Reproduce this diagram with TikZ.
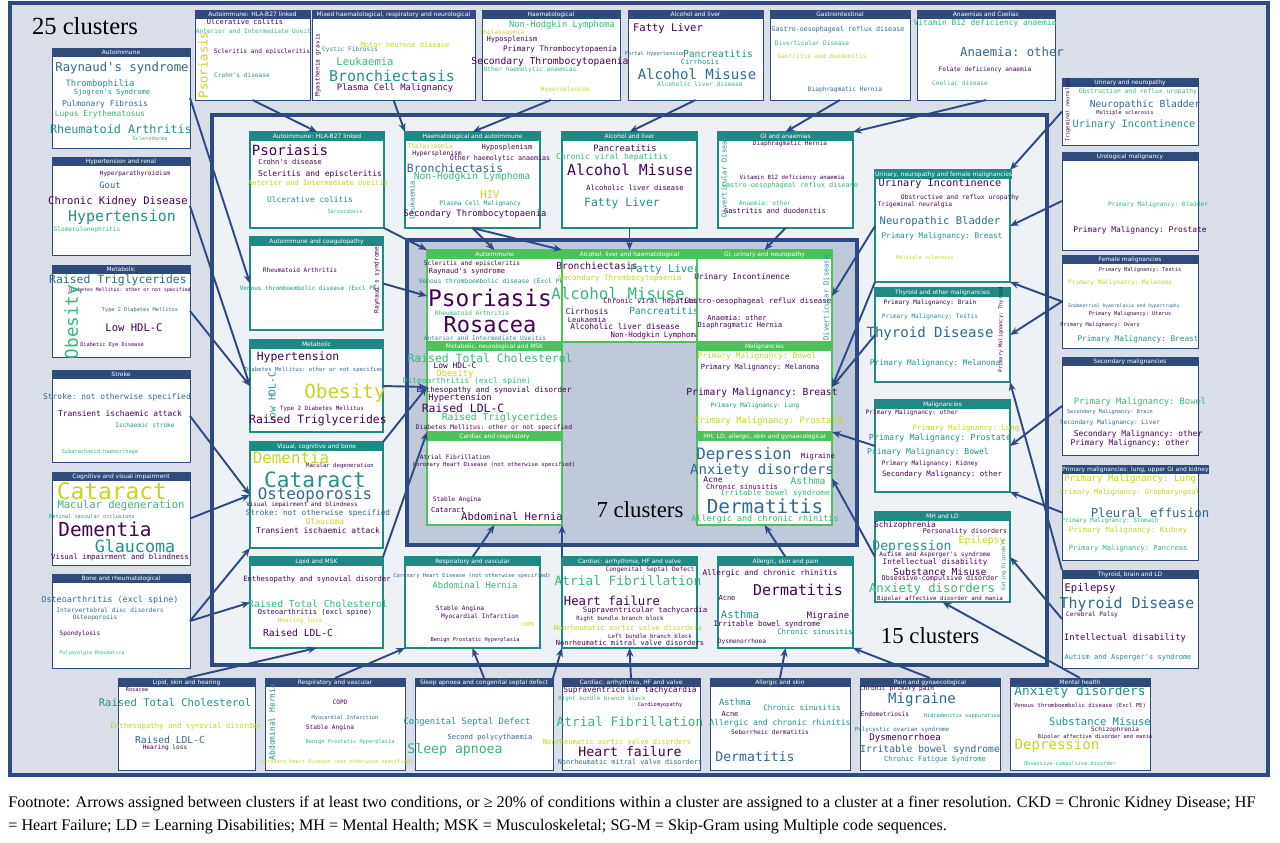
\documentclass[tikz,border=0pt]{standalone}
\usepackage{fontspec}
\setmainfont{Liberation Serif}
\setmonofont{DejaVu Sans Mono}
\setsansfont{DejaVu Sans}
\usetikzlibrary{arrows.meta,positioning,fit}

\definecolor{navy}{HTML}{2E4A85}
\definecolor{hd25}{HTML}{2F4B7C}
\definecolor{hd15}{HTML}{1F8A84}
\definecolor{hd7}{HTML}{4CC35A}
\definecolor{vp}{HTML}{440154}
\definecolor{vb}{HTML}{31688E}
\definecolor{vt}{HTML}{21908C}
\definecolor{vg}{HTML}{35B779}
\definecolor{vy}{HTML}{C9D21E}

\tikzset{
  box25/.style={draw=hd25,fill=white,line width=0.5pt,inner sep=0pt,outer sep=0pt},
  box15/.style={draw=hd15,fill=white,line width=0.6pt,inner sep=0pt,outer sep=0pt},
  box7/.style={draw=hd7,fill=white,line width=0.8pt,inner sep=0pt,outer sep=0pt},
  head/.style={text=white,inner sep=0pt,outer sep=0pt,minimum height=0.18cm,
    font=\sffamily\fontsize{3.4}{3.4}\selectfont},
  word/.style={inner sep=0pt},
  link/.style={-{Stealth[length=5pt,width=4pt]},navy,line width=1.1pt},
  frame/.style={draw=navy,line width=2.2pt},
}
% box: name, x1, y1, x2, y2, level, title
\newcommand\clbox[7]{%
  \node[box#6,fit={(#2,#3) (#4,#5)}] (#1) {};
  \node[head,fill=hd#6,minimum width={(#4-#2)*0.02cm},anchor=north west] (#1h) at (#1.north west) {#7};}
% word of a cloud: x, y, size, colour, text
\newcommand\cword[5]{\node[word,text=#4,font=\ttfamily\fontsize{#3}{#3}\selectfont] at (#1,#2) {#5};}
\newcommand\cvword[5]{\node[word,rotate=90,text=#4,font=\ttfamily\fontsize{#3}{#3}\selectfont] at (#1,#2) {#5};}

\begin{document}
\begin{tikzpicture}[x=0.02cm,y=-0.02cm]
    \useasboundingbox (0,0) rectangle (1280,842);

    %%%% Frames =====================================
    \draw[frame,fill=navy!18] (10,3) rectangle (1268,775);
    \draw[frame,fill=navy!8] (212,115) rectangle (1047,665);
    \draw[frame,fill=navy!30] (407,240) rectangle (857,545);
    \node[font=\fontsize{14}{14}\selectfont] (t25) at (85,26) {25 clusters};
    \node[font=\fontsize{13}{13}\selectfont] (t15) at (930,636) {15 clusters};
    \node[font=\fontsize{13}{13}\selectfont] (t7) at (640,510) {7 clusters};

    %%%% 25 clusters =================================
    \clbox{a25hla}{195}{10}{310}{100}{25}{Autoimmune: HLA-B27 linked}
    \cvword{203}{65}{7}{vy}{Psoriasis}
    \cword{245}{22}{4}{vp}{Ulcerative colitis}
    \cword{257}{31}{3.5}{vg}{Anterior and Intermediate Uveitis}
    \cword{262}{52}{3.5}{vp}{Scleritis and episcleritis}
    \cword{242}{75}{3.5}{vt}{Crohn's disease}

    \clbox{a25mix}{312}{10}{475}{100}{25}{Mixed haematological, respiratory and neurological}
    \cvword{318}{65}{3.5}{vp}{Myasthenia gravis}
    \cword{350}{50}{3.5}{vt}{Cystic Fibrosis}
    \cword{405}{45}{4}{vy}{Motor neurone disease}
    \cword{365}{62}{6}{vg}{Leukaemia}
    \cword{392}{76}{8.5}{vt}{Bronchiectasis}
    \cword{395}{88}{5}{vp}{Plasma Cell Malignancy}

    \clbox{a25haem}{482}{10}{620}{100}{25}{Haematological}
    \cword{562}{25}{5}{vg}{Non-Hodgkin Lymphoma}
    \cword{502}{32}{3.5}{vy}{Thalassaemia}
    \cword{512}{40}{4}{vp}{Hyposplenism}
    \cword{560}{49}{4.3}{vp}{Primary Thrombocytopaenia}
    \cword{550}{62}{5.5}{vp}{Secondary Thrombocytopaenia}
    \cword{530}{70}{3.5}{vg}{Other haemolytic anaemias}
    \cword{565}{90}{3.5}{vy}{Hypersplenism}

    \clbox{a25alc}{628}{10}{763}{100}{25}{Alcohol and liver}
    \cword{668}{29}{6}{vp}{Fatty Liver}
    \cword{655}{54}{3}{vb}{Portal hypertension}
    \cword{718}{54}{5.5}{vt}{Pancreatitis}
    \cword{700}{62}{4}{vt}{Cirrhosis}
    \cword{697}{74}{8}{vb}{Alcohol Misuse}
    \cword{700}{84}{3.5}{vg}{Alcoholic liver disease}

    \clbox{a25gi}{770}{10}{910}{100}{25}{Gastrointestinal}
    \cword{838}{30}{3.8}{vb}{Gastro-oesophageal reflux disease}
    \cword{812}{43}{3.5}{vg}{Diverticular Disease}
    \cword{822}{56}{3.5}{vy}{Gastritis and duodenitis}
    \cword{845}{90}{3.5}{vb}{Diaphragmatic Hernia}

    \clbox{a25anae}{917}{10}{1055}{100}{25}{Anaemias and Coeliac}
    \cword{985}{23}{4.5}{vg}{Vitamin B12 deficiency anaemia}
    \cword{1012}{52}{7}{vb}{Anaemia: other}
    \cword{985}{70}{3.5}{vp}{Folate deficiency anaemia}
    \cword{960}{83}{3.5}{vg}{Coeliac disease}

    \clbox{a25auto}{52}{48}{190}{148}{25}{Autoimmune}
    \cword{122}{68}{7}{vb}{Raynaud's syndrome}
    \cword{100}{84}{5}{vt}{Thrombophilia}
    \cword{112}{93}{4}{vt}{Sjogren's Syndrome}
    \cword{105}{104}{4.5}{vb}{Pulmonary Fibrosis}
    \cword{100}{114}{4.5}{vg}{Lupus Erythematosus}
    \cword{121}{129}{6.7}{vt}{Rheumatoid Arthritis}
    \cword{150}{139}{3}{vg}{Scleroderma}

    \clbox{a25hyp}{52}{157}{190}{255}{25}{Hypertension and renal}
    \cword{135}{174}{3.5}{vp}{Hyperparathyroidism}
    \cword{110}{185}{5}{vb}{Gout}
    \cword{118}{202}{6}{vp}{Chronic Kidney Disease}
    \cword{122}{217}{8.5}{vt}{Hypertension}
    \cword{87}{230}{3.5}{vg}{Glomerulonephritis}

    \clbox{a25met}{52}{265}{190}{357}{25}{Metabolic}
    \cword{118}{280}{6.5}{vb}{Raised Triglycerides}
    \cword{130}{290}{2.8}{vp}{Diabetes Mellitus: other or not specified}
    \cword{140}{310}{3}{vb}{Type 2 Diabetes Mellitus}
    \cvword{73}{322}{10}{vg}{Obesity}
    \cword{134}{328}{6}{vp}{Low HDL-C}
    \cword{112}{345}{3}{vp}{Diabetic Eye Disease}

    \clbox{a25str}{52}{370}{190}{462}{25}{Stroke}
    \cword{117}{397}{4.5}{vb}{Stroke: not otherwise specified}
    \cword{120}{414}{4.5}{vp}{Transient ischaemic attack}
    \cword{145}{425}{3.5}{vt}{Ischaemic stroke}
    \cword{100}{452}{3}{vg}{Subarachnoid haemorrhage}

    \clbox{a25cog}{52}{472}{190}{565}{25}{Cognitive and visual impairment}
    \cword{112}{491}{13}{vy}{Cataract}
    \cword{121}{506}{6}{vg}{Macular degeneration}
    \cword{92}{517}{3}{vt}{Retinal vascular occlusions}
    \cword{105}{529}{11}{vp}{Dementia}
    \cword{135}{546}{9.5}{vt}{Glaucoma}
    \cword{120}{557}{4.2}{vp}{Visual impairment and blindness}

    \clbox{a25bone}{52}{574}{190}{668}{25}{Bone and rheumatological}
    \cword{110}{600}{4.8}{vb}{Osteoarthritis (excl spine)}
    \cword{110}{610}{3.5}{vb}{Intervertebral disc disorders}
    \cword{95}{618}{3.5}{vb}{Osteoporosis}
    \cword{80}{634}{3.5}{vp}{Spondylosis}
    \cword{92}{653}{2.8}{vg}{Polymyalgia Rheumatica}

    \clbox{a25lip}{118}{678}{255}{770}{25}{Lipid, skin and hearing}
    \cword{137}{690}{3}{vp}{Rosacea}
    \cword{175}{703}{6}{vt}{Raised Total Cholesterol}
    \cword{186}{726}{4.2}{vy}{Enthesopathy and synovial disorder}
    \cword{170}{740}{5.5}{vb}{Raised LDL-C}
    \cword{165}{748}{3.5}{vp}{Hearing loss}

    \clbox{a25resp}{265}{678}{405}{770}{25}{Respiratory and vascular}
    \cvword{272}{722}{4.5}{vt}{Abdominal Hernia}
    \cword{340}{702}{3.5}{vp}{COPD}
    \cword{345}{718}{3}{vb}{Myocardial Infarction}
    \cword{330}{728}{3.5}{vp}{Stable Angina}
    \cword{350}{742}{3}{vg}{Benign Prostatic Hyperplasia}
    \cword{337}{762}{3}{vy}{Coronary Heart Disease (not otherwise specified)}

    \clbox{a25sleep}{415}{678}{553}{770}{25}{Sleep apnoea and congenital septal defect}
    \cword{467}{722}{5}{vt}{Congenital Septal Defect}
    \cword{490}{738}{4}{vb}{Second polycythaemia}
    \cword{455}{750}{7.5}{vg}{Sleep apnoea}

    \clbox{a25card}{562}{678}{700}{770}{25}{Cardiac: arrhythmia, HF and valve}
    \cword{630}{690}{4.5}{vp}{Supraventricular tachycardia}
    \cword{602}{699}{3.3}{vg}{Right bundle branch block}
    \cword{660}{705}{3}{vp}{Cardiomyopathy}
    \cword{630}{722}{7.3}{vg}{Atrial Fibrillation}
    \cword{617}{742}{4}{vy}{Nonrheumatic aortic valve disorders}
    \cword{630}{752}{7.5}{vp}{Heart failure}
    \cword{630}{762}{3.9}{vb}{Nonrheumatic mitral valve disorders}

    \clbox{a25allg}{710}{678}{850}{770}{25}{Allergic and skin}
    \cword{735}{702}{5}{vt}{Asthma}
    \cword{802}{708}{4.3}{vt}{Chronic sinusitis}
    \cword{730}{714}{4}{vp}{Acne}
    \cword{780}{723}{4.6}{vt}{Allergic and chronic rhinitis}
    \cword{770}{732}{3.5}{vp}{Seborrheic dermatitis}
    \cword{755}{757}{7.5}{vb}{Dermatitis}

    \clbox{a25pain}{860}{678}{1000}{770}{25}{Pain and gynaecological}
    \cword{897}{689}{3.5}{vp}{Chronic primary pain}
    \cword{922}{700}{8}{vb}{Migraine}
    \cword{885}{714}{3.5}{vp}{Endometriosis}
    \cword{962}{716}{3}{vt}{Hidradenitis suppurativa}
    \cword{902}{730}{3.3}{vb}{Polycystic ovarian syndrome}
    \cword{905}{738}{5.2}{vp}{Dysmenorrhoea}
    \cword{930}{750}{5.5}{vb}{Irritable bowel syndrome}
    \cword{935}{760}{4}{vt}{Chronic Fatigue Syndrome}

    \clbox{a25mh}{1010}{678}{1150}{770}{25}{Mental health}
    \cword{1080}{692}{7.3}{vt}{Anxiety disorders}
    \cword{1080}{706}{3.2}{vp}{Venous thromboembolic disease (Excl PE)}
    \cword{1100}{722}{6}{vt}{Substance Misuse}
    \cword{1115}{730}{3.5}{vp}{Schizophrenia}
    \cword{1095}{737}{3}{vp}{Bipolar affective disorder and mania}
    \cword{1057}{746}{8}{vy}{Depression}
    \cword{1070}{764}{3}{vg}{Obsessive-compulsive disorder}

    \clbox{a25uri}{1062}{78}{1198}{145}{25}{Urinary and neuropathy}
    \cvword{1068}{110}{3}{vp}{Trigeminal neuralgia}
    \cword{1138}{92}{3.6}{vg}{Obstruction and reflux uropathy}
    \cword{1145}{105}{5.5}{vb}{Neuropathic Bladder}
    \cword{1125}{113}{3}{vp}{Multiple sclerosis}
    \cword{1134}{125}{5.8}{vt}{Urinary Incontinence}

    \clbox{a25urol}{1062}{152}{1198}{250}{25}{Urological malignancy}
    \cword{1158}{205}{3.5}{vg}{Primary Malignancy: Bladder}
    \cword{1140}{230}{4.5}{vp}{Primary Malignancy: Prostate}

    \clbox{a25fem}{1062}{255}{1198}{348}{25}{Female malignancies}
    \cword{1140}{270}{3}{vp}{Primary Malignancy: Testis}
    \cword{1120}{283}{3.5}{vy}{Primary Malignancy: Melanoma}
    \cword{1124}{306}{2.7}{vb}{Endometrial hyperplasia and hypertrophy}
    \cword{1130}{314}{3}{vp}{Primary Malignancy: Uterus}
    \cword{1100}{325}{3}{vp}{Primary Malignancy: Ovary}
    \cword{1138}{339}{4.4}{vt}{Primary Malignancy: Breast}

    \clbox{a25sec}{1062}{357}{1198}{455}{25}{Secondary malignancies}
    \cword{1140}{402}{5}{vg}{Primary Malignancy: Bowel}
    \cword{1110}{412}{3}{vb}{Secondary Malignancy: Brain}
    \cword{1110}{423}{3.5}{vb}{Secondary Malignancy: Liver}
    \cword{1138}{434}{4.5}{vp}{Secondary Malignancy: other}
    \cword{1130}{443}{4.5}{vp}{Primary Malignancy: other}

    \clbox{a25prim}{1062}{465}{1198}{560}{25}{Primary malignancies: lung, upper GI and kidney}
    \cword{1130}{479}{5.2}{vy}{Primary Malignancy: Lung}
    \cword{1130}{493}{4}{vy}{Primary Malignancy: Oropharyngeal}
    \cword{1150}{513}{7}{vb}{Pleural effusion}
    \cword{1110}{521}{3.4}{vg}{Primary Malignancy: Stomach}
    \cword{1128}{530}{4.3}{vy}{Primary Malignancy: Kidney}
    \cword{1128}{549}{4}{vg}{Primary Malignancy: Pancreas}

    \clbox{a25thy}{1062}{570}{1198}{668}{25}{Thyroid, brain and LD}
    \cword{1090}{589}{6}{vp}{Epilepsy}
    \cword{1127}{604}{8.5}{vb}{Thyroid Disease}
    \cword{1092}{615}{3.5}{vp}{Cerebral Palsy}
    \cword{1125}{638}{5}{vp}{Intellectual disability}
    \cword{1128}{658}{4}{vt}{Autism and Asperger's syndrome}

    %%%% 15 clusters =================================
    \clbox{b15hla}{250}{132}{384}{228}{15}{Autoimmune: HLA-B27 linked}
    \cword{290}{150}{8}{vp}{Psoriasis}
    \cword{290}{162}{4}{vp}{Crohn's disease}
    \cword{320}{174}{4.5}{vp}{Scleritis and episcleritis}
    \cword{318}{183}{4}{vy}{Anterior and Intermediate Uveitis}
    \cword{310}{200}{4.5}{vt}{Ulcerative colitis}
    \cword{345}{212}{3}{vg}{Sarcoidosis}

    \clbox{b15haem}{405}{132}{540}{228}{15}{Haematological and autoimmune}
    \cword{430}{146}{3.5}{vy}{Thalassaemia}
    \cword{437}{154}{3.6}{vp}{Hypersplenism}
    \cword{507}{148}{4}{vp}{Hyposplenism}
    \cword{500}{159}{3.8}{vp}{Other haemolytic anaemias}
    \cword{455}{168}{6.5}{vb}{Bronchiectasis}
    \cword{472}{177}{5.5}{vg}{Non-Hodgkin Lymphoma}
    \cvword{412}{200}{4}{vt}{Leukaemia}
    \cword{490}{195}{6}{vy}{HIV}
    \cword{480}{204}{3.5}{vt}{Plasma Cell Malignancy}
    \cword{475}{214}{5}{vp}{Secondary Thrombocytopaenia}

    \clbox{b15alc}{562}{132}{697}{228}{15}{Alcohol and liver}
    \cword{625}{148}{5}{vp}{Pancreatitis}
    \cword{612}{157}{4.6}{vg}{Chronic viral hepatitis}
    \cword{630}{170}{8.5}{vp}{Alcohol Misuse}
    \cword{635}{188}{4}{vp}{Alcoholic liver disease}
    \cword{622}{203}{6.5}{vt}{Fatty Liver}

    \clbox{b15gi}{718}{132}{853}{228}{15}{GI and anaemias}
    \cword{790}{144}{3.5}{vp}{Diaphragmatic Hernia}
    \cvword{724}{175}{4}{vt}{Diverticular Disease}
    \cword{792}{178}{3.3}{vp}{Vitamin B12 deficiency anaemia}
    \cword{790}{186}{3.9}{vg}{Gastro-oesophageal reflux disease}
    \cword{765}{203}{3.5}{vg}{Anaemia: other}
    \cword{775}{211}{4}{vp}{Gastritis and duodenitis}

    \clbox{b15coag}{250}{237}{383}{330}{15}{Autoimmune and coagulopathy}
    \cword{300}{270}{3.5}{vp}{Rheumatoid Arthritis}
    \cword{310}{289}{3.4}{vt}{Venous thromboembolic disease (Excl PE)}
    \cvword{377}{280}{3.5}{vp}{Raynaud's syndrome}

    \clbox{b15met}{250}{340}{383}{432}{15}{Metabolic}
    \cword{298}{357}{6.5}{vp}{Hypertension}
    \cword{314}{370}{3.2}{vb}{Diabetes Mellitus: other or not specified}
    \cvword{272}{398}{5.5}{vt}{Low HDL-C}
    \cword{345}{393}{11}{vy}{Obesity}
    \cword{322}{409}{3.3}{vp}{Type 2 Diabetes Mellitus}
    \cword{318}{420}{6.5}{vp}{Raised Triglycerides}

    \clbox{b15vis}{250}{442}{383}{548}{15}{Visual, cognitive and bone}
    \cword{291}{458}{9}{vy}{Dementia}
    \cword{340}{466}{3.2}{vp}{Macular degeneration}
    \cword{315}{480}{12}{vt}{Cataract}
    \cword{315}{495}{9}{vb}{Osteoporosis}
    \cword{302}{505}{3.4}{vp}{Visual impairment and blindness}
    \cword{318}{513}{4.4}{vb}{Stroke: not otherwise specified}
    \cword{325}{522}{4.5}{vy}{Glaucoma}
    \cword{318}{531}{4.5}{vp}{Transient ischaemic attack}

    \clbox{b15lip}{250}{557}{383}{648}{15}{Lipid and MSK}
    \cword{317}{579}{4.1}{vp}{Enthesopathy and synovial disorder}
    \cword{318}{604}{5.5}{vg}{Raised Total Cholesterol}
    \cword{315}{613}{4}{vp}{Osteoarthritis (excl spine)}
    \cword{300}{621}{3.5}{vy}{Hearing loss}
    \cword{298}{633}{5.5}{vp}{Raised LDL-C}

    \clbox{b15resp}{405}{557}{540}{648}{15}{Respiratory and vascular}
    \cword{472}{576}{3.1}{vb}{Coronary Heart Disease (not otherwise specified)}
    \cword{475}{585}{5}{vg}{Abdominal Hernia}
    \cword{460}{609}{3.5}{vp}{Stable Angina}
    \cword{480}{617}{3.5}{vp}{Myocardial Infarction}
    \cword{528}{625}{3}{vy}{COPD}
    \cword{475}{640}{3}{vp}{Benign Prostatic Hyperplasia}

    \clbox{b15card}{562}{557}{697}{648}{15}{Cardiac: arrhythmia, HF and valve}
    \cword{650}{570}{3.5}{vp}{Congenital Septal Defect}
    \cword{628}{581}{7.3}{vg}{Atrial Fibrillation}
    \cword{612}{601}{7}{vp}{Heart failure}
    \cword{645}{610}{4.2}{vp}{Supraventricular tachycardia}
    \cword{620}{619}{3.3}{vp}{Right bundle branch block}
    \cword{628}{628}{4}{vy}{Nonrheumatic aortic valve disorders}
    \cword{650}{636}{3.3}{vp}{Left bundle branch block}
    \cword{630}{643}{4}{vp}{Nonrheumatic mitral valve disorders}

    \clbox{b15allg}{718}{557}{853}{648}{15}{Allergic, skin and pain}
    \cword{770}{573}{4.4}{vp}{Allergic and chronic rhinitis}
    \cword{798}{590}{8.5}{vp}{Dermatitis}
    \cword{727}{598}{4}{vp}{Acne}
    \cword{740}{615}{6}{vt}{Asthma}
    \cword{828}{616}{5}{vp}{Migraine}
    \cword{767}{624}{4.2}{vp}{Irritable bowel syndrome}
    \cword{815}{632}{4.2}{vt}{Chronic sinusitis}
    \cword{742}{642}{3.5}{vp}{Dysmenorrhoea}

    \clbox{b15uri}{875}{170}{1010}{282}{15}{Urinary, neuropathy and female malignancies}
    \cword{940}{184}{5.8}{vp}{Urinary Incontinence}
    \cword{960}{198}{3.6}{vp}{Obstructive and reflux uropathy}
    \cword{915}{205}{3.5}{vp}{Trigeminal neuralgia}
    \cword{940}{222}{6}{vb}{Neuropathic Bladder}
    \cword{942}{236}{4.4}{vt}{Primary Malignancy: Breast}
    \cword{925}{258}{3}{vy}{Multiple sclerosis}

    \clbox{b15thy}{875}{288}{1010}{382}{15}{Thyroid and other malignancies}
    \cword{930}{303}{3.5}{vp}{Primary Malignancy: Brain}
    \cword{930}{317}{3.5}{vt}{Primary Malignancy: Testis}
    \cword{930}{334}{8}{vb}{Thyroid Disease}
    \cvword{1001}{330}{3}{vp}{Primary Malignancy: Thyroid}
    \cword{935}{363}{4.4}{vt}{Primary Malignancy: Melanoma}

    \clbox{b15mal}{875}{400}{1010}{492}{15}{Malignancies}
    \cword{912}{413}{3.5}{vp}{Primary Malignancy: other}
    \cword{966}{428}{4.2}{vy}{Primary Malignancy: Lung}
    \cword{940}{438}{4.8}{vt}{Primary Malignancy: Prostate}
    \cword{928}{452}{4.6}{vt}{Primary Malignancy: Bowel}
    \cword{930}{464}{3.5}{vp}{Primary Malignancy: Kidney}
    \cword{942}{474}{4.2}{vp}{Secondary Malignancy: other}

    \clbox{b15mh}{875}{512}{1010}{602}{15}{MH and LD}
    \cword{905}{525}{4.5}{vp}{Schizophrenia}
    \cword{965}{532}{3.8}{vp}{Personality disorders}
    \cword{982}{541}{5.5}{vy}{Epilepsy}
    \cword{912}{547}{7.5}{vt}{Depression}
    \cword{935}{555}{3.5}{vp}{Autism and Asperger's syndrome}
    \cword{935}{562}{4.3}{vp}{Intellectual disability}
    \cword{940}{572}{5.5}{vp}{Substance Misuse}
    \cword{940}{579}{3.8}{vp}{Obsessive-compulsive disorder}
    \cword{932}{589}{7}{vg}{Anxiety disorders}
    \cword{940}{599}{3.3}{vp}{Bipolar affective disorder and mania}
    \cvword{1004}{565}{3}{vt}{Eating Disorders}

    %%%% 7 clusters ==================================
    \clbox{c7auto}{427}{250}{562}{342}{7}{Autoimmune}
    \cword{472}{264}{3.5}{vp}{Scleritis and episcleritis}
    \cword{467}{272}{4}{vp}{Raynaud's syndrome}
    \cword{493}{281}{3.6}{vt}{Venous thromboembolic disease (Excl PE)}
    \cword{490}{298}{13}{vp}{Psoriasis}
    \cword{472}{313}{3.5}{vg}{Rheumatoid Arthritis}
    \cword{490}{325}{12.5}{vp}{Rosacea}
    \cword{485}{338}{3.5}{vt}{Anterior and Intermediate Uveitis}

    \clbox{c7alc}{562}{250}{697}{342}{7}{Alcohol, liver and haematological}
    \cword{597}{266}{5.5}{vp}{Bronchiectasis}
    \cword{665}{270}{6}{vt}{Fatty Liver}
    \cword{620}{278}{4.3}{vy}{Secondary Thrombocytopaenia}
    \cword{618}{294}{9}{vg}{Alcohol Misuse}
    \cword{652}{302}{4}{vp}{Chronic viral hepatitis}
    \cword{587}{312}{4.5}{vp}{Cirrhosis}
    \cword{664}{311}{5.5}{vt}{Pancreatitis}
    \cword{587}{320}{4}{vp}{Leukaemia}
    \cword{625}{327}{4.5}{vp}{Alcoholic liver disease}
    \cword{655}{335}{4.2}{vp}{Non-Hodgkin Lymphoma}

    \clbox{c7gi}{697}{250}{832}{342}{7}{GI, urinary and neuropathy}
    \cword{742}{277}{4.5}{vp}{Urinary Incontinence}
    \cword{758}{301}{4.2}{vp}{Gastro-oesophageal reflux disease}
    \cword{737}{318}{4}{vp}{Anaemia: other}
    \cword{740}{326}{4}{vp}{Diaphragmatic Hernia}
    \cvword{826}{298}{4}{vt}{Diverticular Disease}

    \clbox{c7met}{427}{342}{562}{432}{7}{Metabolic, neurological and MSK}
    \cword{490}{358}{6.5}{vg}{Raised Total Cholesterol}
    \cword{455}{366}{4.5}{vp}{Low HDL-C}
    \cword{455}{374}{5}{vy}{Obesity}
    \cword{467}{381}{4.5}{vg}{Osteoarthritis (excl spine)}
    \cword{494}{390}{4.3}{vp}{Enthesopathy and synovial disorder}
    \cword{460}{398}{5}{vp}{Hypertension}
    \cword{463}{408}{6.5}{vp}{Raised LDL-C}
    \cword{500}{418}{5.5}{vg}{Raised Triglycerides}
    \cword{494}{428}{3.6}{vp}{Diabetes Mellitus: other or not specified}

    \clbox{c7card}{427}{432}{562}{525}{7}{Cardiac and respiratory}
    \cword{455}{457}{3.5}{vp}{Atrial Fibrillation}
    \cword{494}{465}{3.2}{vp}{Coronary Heart Disease (not otherwise specified)}
    \cword{457}{500}{3.5}{vp}{Stable Angina}
    \cword{448}{510}{4}{vp}{Cataract}
    \cword{512}{517}{6}{vp}{Abdominal Hernia}

    \clbox{c7mal}{697}{342}{832}{432}{7}{Malignancies}
    \cword{757}{356}{4.5}{vy}{Primary Malignancy: Bowel}
    \cword{760}{368}{4}{vp}{Primary Malignancy: Melanoma}
    \cword{762}{393}{5.5}{vp}{Primary Malignancy: Breast}
    \cword{755}{406}{3.5}{vt}{Primary Malignancy: Lung}
    \cword{768}{421}{5}{vy}{Primary Malignancy: Prostate}

    \clbox{c7mh}{697}{432}{832}{525}{7}{MH, LD, allergic, skin and gynaecological}
    \cword{744}{455}{9}{vb}{Depression}
    \cword{818}{457}{4}{vp}{Migraine}
    \cword{762}{471}{8}{vb}{Anxiety disorders}
    \cword{713}{480}{4.5}{vp}{Acne}
    \cword{808}{481}{5.5}{vg}{Asthma}
    \cword{742}{487}{4}{vp}{Chronic sinusitis}
    \cword{775}{493}{4.3}{vg}{Irritable bowel syndrome}
    \cword{765}{506}{11}{vb}{Dermatitis}
    \cword{765}{519}{4.8}{vg}{Allergic and chronic rhinitis}

    %%%% Arrows 25 -> 15 ==============================
    \draw[link] (a25hla.south) -- (b15hla.north);
    \draw[link] (a25mix.south) -- (b15haem.north west);
    \draw[link] (a25haem.south) -- (b15haem.north);
    \draw[link] (a25alc.south) -- (b15alc.north);
    \draw[link] (a25gi.south) -- (b15gi.north);
    \draw[link] (a25anae.south) -- (b15gi.north east);
    \draw[link] (a25auto.east) -- (b15coag.west);
    \draw[link] (a25hyp.east) -- (b15met.west);
    \draw[link] (a25met.east) -- (b15met.west);
    \draw[link] (a25str.east) -- (b15vis.west);
    \draw[link] (a25cog.east) -- (b15vis.west);
    \draw[link] (a25bone.east) -- (b15vis.south west);
    \draw[link] (a25bone.east) -- (b15lip.west);
    \draw[link] (a25lip.north) -- (b15lip.south);
    \draw[link] (a25resp.north) -- (b15resp.south west);
    \draw[link] (a25sleep.north) -- (b15resp.south);
    \draw[link] (a25sleep.north east) -- (b15card.south west);
    \draw[link] (a25card.north) -- (b15card.south);
    \draw[link] (a25allg.north) -- (b15allg.south);
    \draw[link] (a25pain.north) -- (b15allg.south east);
    \draw[link] (a25mh.north) -- (b15mh.south);
    \draw[link] (a25uri.west) -- (b15uri.north east);
    \draw[link] (a25urol.west) -- (b15uri.east);
    \draw[link] (a25fem.west) -- (b15uri.south east);
    \draw[link] (a25fem.west) -- (b15thy.east);
    \draw[link] (a25sec.west) -- (b15mal.east);
    \draw[link] (a25prim.west) -- (b15mal.south east);
    \draw[link] (a25thy.north west) -- (b15thy.south east);
    \draw[link] (a25thy.west) -- (b15mh.east);

    %%%% Arrows 15 -> 7 ===============================
    \draw[link] (b15hla.south east) -- (c7auto.north west);
    \draw[link] (b15haem.south) -- (c7auto.north);
    \draw[link] (b15haem.south) -- (c7alc.north west);
    \draw[link] (b15alc.south) -- (c7alc.north);
    \draw[link] (b15gi.south) -- (c7gi.north);
    \draw[link] (b15coag.east) -- (c7auto.west);
    \draw[link] (b15met.east) -- (c7met.west);
    \draw[link] (b15vis.north east) -- (c7met.west);
    \draw[link] (b15lip.north east) -- (c7met.south west);
    \draw[link] (b15resp.north) -- (c7card.south);
    \draw[link] (b15card.north west) -- (c7card.south east);
    \draw[link] (b15allg.north) -- (c7mh.south);
    \draw[link] (b15uri.west) -- (c7gi.east);
    \draw[link] (b15uri.south west) -- (c7mal.east);
    \draw[link] (b15thy.west) -- (c7mal.east);
    \draw[link] (b15mal.west) -- (c7mal.south east);
    \draw[link] (b15mh.west) -- (c7mh.east);

    %%%% Footnote =====================================
    \node[anchor=north west,text width=25.4cm,align=flush left,inner sep=0pt,
      font=\fontsize{9.2}{13}\selectfont] (note) at (8,796)
      {Footnote: Arrows assigned between clusters if at least two conditions, or ≥ 20\% of conditions within a cluster are assigned to a cluster at a finer resolution. CKD = Chronic Kidney Disease; HF\\= Heart Failure; LD = Learning Disabilities; MH = Mental Health; MSK = Musculoskeletal; SG-M = Skip-Gram using Multiple code sequences.};
\end{tikzpicture}
\end{document}
